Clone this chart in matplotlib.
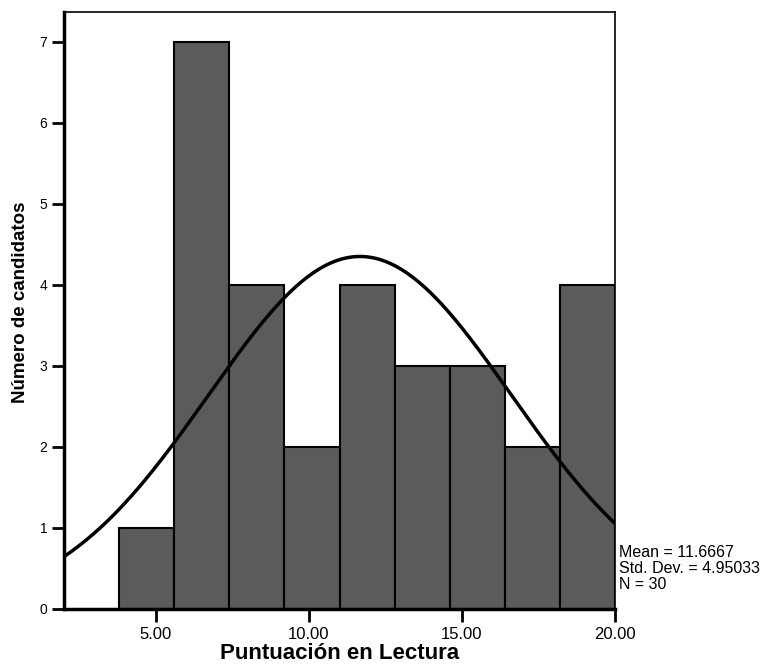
import matplotlib.pyplot as plt
import numpy as np

plt.rcParams['font.family'] = ['Liberation Sans', 'DejaVu Sans']

# histogram of reading scores (SPSS style)
bin_edges = [3.8, 5.6, 7.4, 9.2, 11.0, 12.8, 14.6, 16.4, 18.2, 20.0]
counts = [1, 7, 4, 2, 4, 3, 3, 2, 4]
mean = 11.6667
std = 4.95033
n = 30

xticks = [5, 10, 15, 20]
xtick_labels = ['5.00', '10.00', '15.00', '20.00']
yticks = [0, 1, 2, 3, 4, 5, 6, 7]

fig = plt.figure(figsize=(7.78, 6.66), dpi=100)
ax = fig.add_axes([0.0823, 0.0856, 0.7082, 0.8964])

lefts = np.array(bin_edges[:-1])
widths = np.diff(bin_edges)
ax.bar(lefts, counts, width=widths, align='edge', color='#5b5b5b',
       edgecolor='black', linewidth=1.5, zorder=2)

# normal curve scaled to the counts
bw = widths[0]
xs = np.linspace(2.0, 20.0, 300)
ys = n * bw / (std * np.sqrt(2 * np.pi)) * np.exp(-0.5 * ((xs - mean) / std) ** 2)
ax.plot(xs, ys, color='black', linewidth=2.5, zorder=3)

ax.set_xlim(2.0, 20.0)
ax.set_ylim(0, 7.37)
ax.set_xticks(xticks)
ax.set_xticklabels(xtick_labels, fontsize=12)
ax.set_yticks(yticks)
ax.set_yticklabels([str(v) for v in yticks], fontsize=10)
ax.tick_params(axis='both', direction='out', length=9, width=2)
ax.tick_params(axis='x', pad=4)
ax.tick_params(axis='y', pad=3)

ax.spines['left'].set_linewidth(2.5)
ax.spines['bottom'].set_linewidth(2.5)
ax.spines['top'].set_linewidth(1.2)
ax.spines['right'].set_linewidth(1.2)

ax.set_xlabel('Puntuación en Lectura', fontsize=16, fontweight='bold', labelpad=1)
ax.set_ylabel('Número de candidatos', fontsize=13.5, fontweight='bold')
ax.yaxis.set_label_coords(-0.064, 0.514)

fig.text(0.796, 0.181, 'Mean = 11.6667\nStd. Dev. = 4.95033\nN = 30',
         fontsize=11.5, va='top', ha='left', linespacing=1.05)

fig.savefig('out.png', dpi=100)
